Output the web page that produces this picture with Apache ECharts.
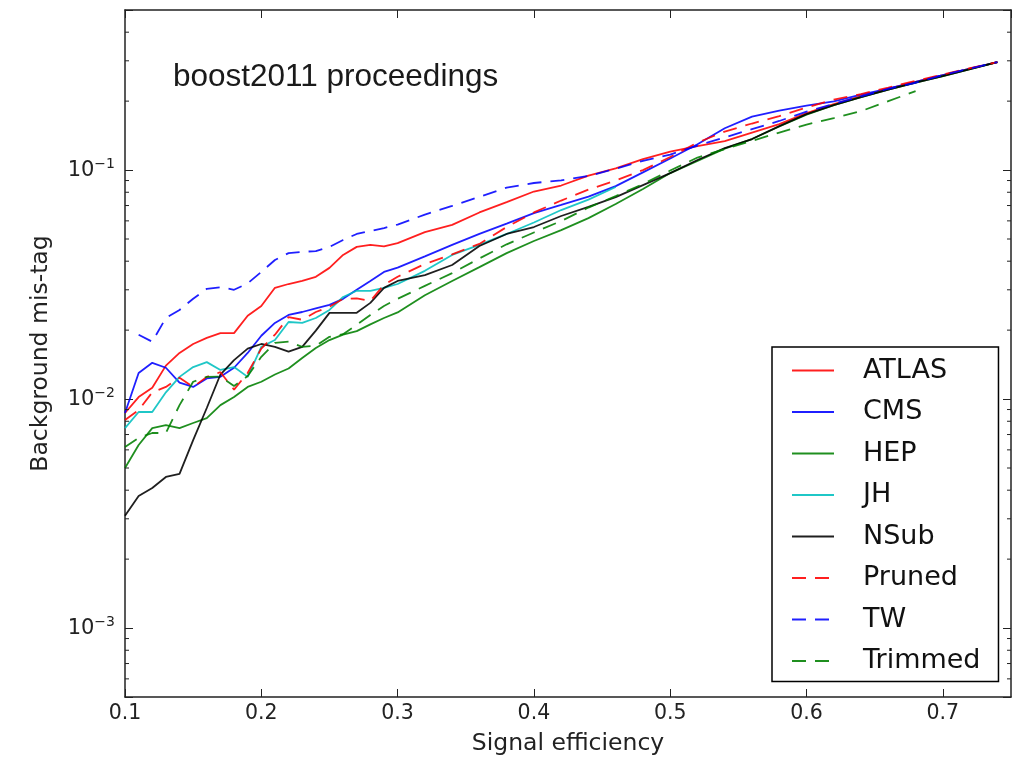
<!DOCTYPE html>
<html>
<head>
<meta charset="utf-8">
<script src="https://cdn.jsdelivr.net/npm/echarts@6/dist/echarts.min.js"></script>
<style>html,body{margin:0;padding:0;background:#fff;}#chart{width:1026px;height:758px;}</style>
</head>
<body>
<div id="chart"></div>
<script>
// Signal efficiency sample points
var xs = [0.10,0.11,0.12,0.13,0.14,0.15,0.16,0.17,0.18,0.19,0.20,0.21,0.22,0.23,0.24,0.25,0.26,0.27,0.28,0.29,0.30,
          0.32,0.34,0.36,0.38,0.40,0.42,0.44,0.46,0.48,0.50,0.52,0.54,0.56,0.58,0.60,0.62,0.64,0.66,0.68,0.70,0.72,0.74];

var atlas = [0.00869,0.0102,0.0112,0.0140,0.0159,0.0174,0.0185,0.0194,0.0194,0.0231,0.0255,0.0306,0.0318,0.0328,0.0342,0.0374,0.0426,0.0462,0.0471,0.0464,0.0480,
             0.0536,0.0576,0.0653,0.0725,0.0806,0.0856,0.0946,0.1017,0.1117,0.1205,0.1273,0.1339,0.1458,0.1588,0.1774,0.1942,0.2104,0.227,0.243,0.260,0.2775,0.296];
var cms = [0.00869,0.0130,0.0144,0.0137,0.0118,0.0113,0.0123,0.0125,0.0137,0.0159,0.0189,0.0215,0.0233,0.0240,0.0249,0.0258,0.0274,0.0300,0.0328,0.0359,0.0375,
           0.0420,0.0471,0.0526,0.0584,0.0649,0.0704,0.0766,0.0851,0.0977,0.1124,0.1297,0.1523,0.1711,0.1817,0.1912,0.1993,0.2135,0.227,0.243,0.260,0.2775,0.296];
var hep = [0.0050,0.0063,0.00747,0.0077,0.00747,0.00786,0.00826,0.00941,0.0102,0.0113,0.0119,0.0128,0.0136,0.0151,0.0167,0.0181,0.0191,0.0198,0.0212,0.0226,0.0239,
           0.0284,0.0328,0.0377,0.0434,0.0490,0.0547,0.0617,0.0711,0.0826,0.0970,0.1095,0.1241,0.1366,0.1549,0.1747,0.1923,0.2084,0.2246,0.2406,0.2573,0.2761,0.296];
var jh = [0.00747,0.00878,0.00878,0.0107,0.0125,0.0138,0.0145,0.0134,0.0138,0.0125,0.0169,0.0181,0.0217,0.0215,0.0226,0.0245,0.0279,0.0297,0.0297,0.0306,0.0318,
          0.0363,0.0426,0.0471,0.0526,0.059,0.0669,0.0743,0.0843,null,null,null,null,null,null,null,null,null,null,null,null,null,null];
var nsub = [0.00309,0.00377,0.00409,0.00457,0.00471,0.00662,0.00914,0.0128,0.0148,0.0166,0.0174,0.0169,0.0161,0.0169,0.0199,0.0238,0.0238,0.0238,0.0263,0.0306,0.0328,
            0.0348,0.0385,0.0466,0.0526,0.0564,0.0630,0.0690,0.0762,0.0860,0.0970,0.1106,0.1248,0.1366,0.1556,0.1756,0.1923,0.2084,0.2246,0.2406,0.2573,0.2761,0.296];
var pruned = [0.0081,0.00895,0.0107,0.0113,0.0124,0.0113,0.0125,0.0131,0.0110,0.0130,0.0166,0.0191,0.0228,0.0222,0.0240,0.0253,0.0274,0.0275,0.0268,0.0315,0.0342,
              0.0389,0.0428,0.0476,0.0564,0.0653,0.0736,0.0822,0.0900,0.100,0.114,0.1318,0.1473,0.1597,0.1721,0.1875,0.2032,0.2147,0.2293,0.2452,0.2612,0.279,0.296];
var tw = [null,0.0191,0.0178,0.0226,0.0245,0.0274,0.0303,0.0308,0.0300,0.0320,0.0359,0.0405,0.0434,0.0439,0.0443,0.0462,0.0495,0.0526,0.0542,0.0558,0.0578,
          0.0639,0.0697,0.0764,0.0838,0.0878,0.0902,0.0942,0.1013,0.1098,0.1169,0.1279,0.1389,0.151,0.1638,0.180,0.1946,0.2096,0.2265,0.2406,0.260,0.2775,0.296];
var trimmed = [0.00617,0.00676,0.00711,0.00711,0.00941,0.0119,0.0125,0.01255,0.0114,0.0126,0.0153,0.0176,0.0178,0.0169,0.0171,0.0187,0.0192,0.0211,0.0233,0.0255,0.0274,
               0.0312,0.0355,0.0411,0.0474,0.0534,0.0599,0.0686,0.0770,0.0869,0.0995,0.1134,0.1235,0.1341,0.1458,0.158,0.1687,0.1809,0.2001,0.221,null,null,null];

var xTicks = [0.1,0.2,0.3,0.4,0.5,0.6,0.7];
var yMinorTicks = [6e-4,7e-4,8e-4,9e-4,2e-3,3e-3,4e-3,5e-3,6e-3,7e-3,8e-3,9e-3,
                   0.02,0.03,0.04,0.05,0.06,0.07,0.08,0.09,0.2,0.3,0.4];

var names = ['ATLAS','CMS','HEP','JH','NSub','Pruned','TW','Trimmed'];
var values = [atlas, cms, hep, jh, nsub, pruned, tw, trimmed];
var colors = ['#ff0000','#0000ff','#008000','#00bfbf','#000000','#ff0000','#0000ff','#008000'];
var dashed = [false,false,false,false,false,true,true,true];

var FONT = 'DejaVu Sans';
var AX = '#222';
var XMIN = 0.1, XMAX = 0.75, YMIN = 0.0005, YMAX = 0.5;

function isPow10(v){ var l = Math.log10(v); return Math.abs(l - Math.round(l)) < 1e-6; }

var series = names.map(function(n, i){
  return {
    name: n, type: 'line', symbol: 'none', showSymbol: false, animation: false,
    xAxisIndex: 0, yAxisIndex: 0, connectNulls: false,
    data: xs.map(function(x, j){ return values[i][j] == null ? [x, null] : [x, values[i][j]]; }),
    lineStyle: { color: colors[i], width: 1.8, opacity: 0.88, type: dashed[i] ? [14, 9] : 'solid' },
    itemStyle: { color: colors[i] },
    z: 3
  };
});

series.push({
  name: 'minorTicks', type: 'custom', silent: true, animation: false, clip: false,
  xAxisIndex: 0, yAxisIndex: 0, z: 4,
  data: yMinorTicks.map(function(v){ return [XMIN, v]; }),
  renderItem: function(params, api){
    var v = api.value(1);
    var pl = api.coord([XMIN, v]);
    var pr = api.coord([XMAX, v]);
    return { type: 'group', children: [
      { type: 'line', shape: { x1: pl[0], y1: pl[1], x2: pl[0] + 4, y2: pl[1] }, style: { stroke: AX, lineWidth: 1 } },
      { type: 'line', shape: { x1: pr[0] - 4, y1: pr[1], x2: pr[0], y2: pr[1] }, style: { stroke: AX, lineWidth: 1 } }
    ]};
  }
});

var axisLineStyle = { show: true, lineStyle: { color: AX, width: 1.5 } };
var tickStyle = { show: true, inside: true, length: 8, lineStyle: { color: AX, width: 1 } };

var yLabel = {
  show: true, margin: 10,
  formatter: function(v){
    if (!isPow10(v)) return '';
    var e = Math.round(Math.log10(v));
    return '{b|10}{s|' + (e < 0 ? '\u2212' + (-e) : e) + '}';
  },
  rich: {
    b: { fontFamily: FONT, fontSize: 21, color: AX, lineHeight: 26 },
    s: { fontFamily: FONT, fontSize: 14, color: AX, verticalAlign: 'top', lineHeight: 14 }
  }
};

var option = {
  backgroundColor: '#fff',
  animation: false,
  grid: { left: 125, right: 15, top: 10, bottom: 61, containLabel: false, outerBoundsMode: 'none' },
  xAxis: [{
    type: 'value', min: XMIN, max: XMAX, interval: 0.1, position: 'bottom',
    name: 'Signal efficiency', nameLocation: 'middle', nameGap: 35,
    nameTextStyle: { fontFamily: FONT, fontSize: 23.5, color: AX },
    axisLine: axisLineStyle, axisTick: tickStyle, splitLine: { show: false },
    axisLabel: { show: true, margin: 6, fontFamily: FONT, fontSize: 20.5, color: AX, showMaxLabel: false,
      formatter: function(v){ return xTicks.some(function(t){ return Math.abs(t - v) < 1e-9; }) ? v.toFixed(1) : ''; } }
  }, {
    type: 'value', min: XMIN, max: XMAX, interval: 0.1, position: 'top',
    axisLine: axisLineStyle, axisTick: tickStyle, splitLine: { show: false }, axisLabel: { show: false }
  }],
  yAxis: [{
    type: 'log', logBase: 10, min: YMIN, max: YMAX, position: 'left',
    name: 'Background mis-tag', nameLocation: 'middle', nameGap: 72, nameRotate: 90,
    nameTextStyle: { fontFamily: FONT, fontSize: 23.5, color: AX },
    axisLine: axisLineStyle, axisTick: tickStyle, splitLine: { show: false }, minorTick: { show: false },
    axisLabel: yLabel
  }, {
    type: 'log', logBase: 10, min: YMIN, max: YMAX, position: 'right',
    axisLine: axisLineStyle, axisTick: tickStyle, splitLine: { show: false }, axisLabel: { show: false }
  }],
  legend: {
    data: names, orient: 'vertical', left: 772, top: 347,
    padding: [10, 18, 7, 19], itemWidth: 42, itemHeight: 14, itemGap: 14.5,
    backgroundColor: '#fff', borderColor: '#000', borderWidth: 1.5, borderRadius: 0,
    selectedMode: false,
    itemStyle: { opacity: 0, borderWidth: 0 },
    textStyle: { fontFamily: FONT, fontSize: 27, lineHeight: 27, color: '#111', padding: [0, 0, 0, 24] }
  },
  graphic: [{
    type: 'text', left: 173, top: 61, z: 10,
    style: { text: 'boost2011 proceedings', font: '31.5px "Liberation Sans"', fill: '#1a1a1a' }
  }],
  series: series
};

var chart = echarts.init(document.getElementById('chart'), null, { renderer: 'canvas' });
chart.setOption(option);
</script>
</body>
</html>
